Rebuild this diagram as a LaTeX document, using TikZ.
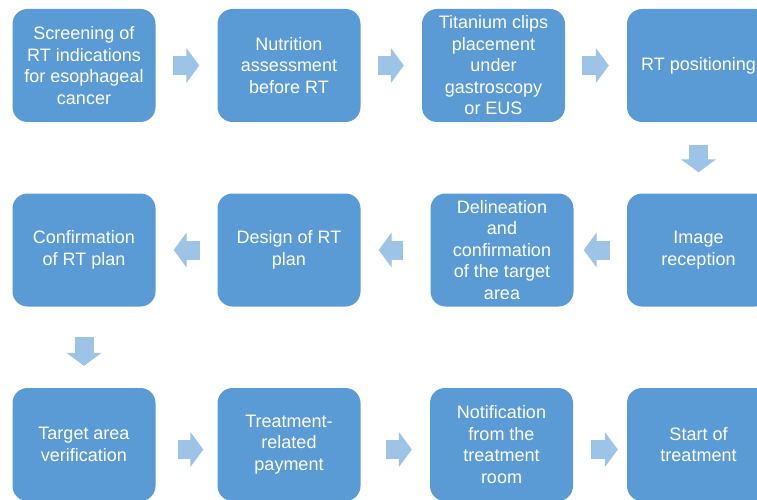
\documentclass[tikz,border=0pt]{standalone}
\usepackage{fontspec}
\setmainfont{Liberation Sans}
\usetikzlibrary{arrows.meta}
\definecolor{boxblue}{RGB}{91,155,213}
\definecolor{arrowblue}{RGB}{157,195,230}

\begin{document}
\begin{tikzpicture}[x=1pt, y=-1pt,
  stepbox/.style={fill=boxblue, rounded corners=15pt, minimum width=143pt, minimum height=113pt, text=white, align=center, inner sep=2pt, font=\fontsize{18}{21.5}\selectfont},
  flow/.style={draw=arrowblue, line width=19pt, -{Triangle[width=35pt, length=13pt, line width=1pt]}, shorten <=17pt, shorten >=18pt}]

% Define rows
\def\rowone{65.5}
\def\rowtwo{250}
\def\rowthree{444.5}

\useasboundingbox (0,0) rectangle (757,500);

% First row
\node[stepbox] (screen) at (84,\rowone) {Screening of\\RT indications\\for esophageal\\cancer};
\node[stepbox] (nutri) at (289,\rowone) {Nutrition\\assessment\\before RT};
\node[stepbox] (clips) at (493.5,\rowone) {Titanium clips\\placement\\under\\gastroscopy\\or EUS};
\node[stepbox] (posit) at (698.5,\rowone) {RT positioning};

% Second row, right to left
\node[stepbox] (image) at (698.5,\rowtwo) {Image\\reception};
\node[stepbox] (delin) at (502,\rowtwo) {Delineation\\and\\confirmation\\of the target\\area};
\node[stepbox] (design) at (289,\rowtwo) {Design of RT\\plan};
\node[stepbox] (confirm) at (84,\rowtwo) {Confirmation\\of RT plan};

% Third row
\node[stepbox] (verif) at (84,\rowthree) {Target area\\verification};
\node[stepbox] (pay) at (289,\rowthree) {Treatment-\\related\\payment};
\node[stepbox] (notif) at (501.5,\rowthree) {Notification\\from the\\treatment\\room};
\node[stepbox] (start) at (698.5,\rowthree) {Start of\\treatment};

% Block arrows between the steps
\draw[flow] (screen) -- (nutri);
\draw[flow] (nutri) -- (clips);
\draw[flow] (clips) -- (posit);
\draw[flow, shorten <=23pt, shorten >=21pt] (posit) -- (image);
\draw[flow, shorten >=10pt] (image) -- (delin);
\draw[flow, shorten <=27pt] (delin) -- (design);
\draw[flow] (design) -- (confirm);
\draw[flow, shorten <=30pt, shorten >=22pt] (confirm) -- (verif);
\draw[flow, shorten <=22pt, shorten >=14pt] ([yshift=-5pt]verif.east) -- ([yshift=-5pt]pay.west);
\draw[flow, shorten <=25pt] ([yshift=-5pt]pay.east) -- ([yshift=-5pt]notif.west);
\draw[flow, shorten <=18pt, shorten >=9pt] ([yshift=-5pt]notif.east) -- ([yshift=-5pt]start.west);
\end{tikzpicture}
\end{document}
